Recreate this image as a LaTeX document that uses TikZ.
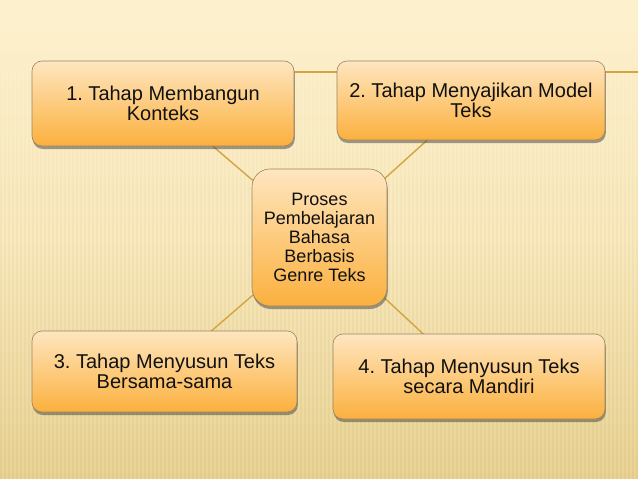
\documentclass[tikz,border=0pt]{standalone}
\usepackage{fontspec}
\setmainfont{Liberation Sans}
\frenchspacing
\usetikzlibrary{shadows}
\definecolor{bgtop}{HTML}{FDF0CC}
\definecolor{bgbot}{HTML}{E9D396}
\definecolor{boxtop}{HTML}{FEE6C0}
\definecolor{boxmid}{HTML}{FDCB7E}
\definecolor{boxbot}{HTML}{FBB03E}
\definecolor{linkcol}{HTML}{D4A443}
\definecolor{edgecol}{HTML}{9A8462}
\definecolor{txtcol}{HTML}{111111}
\definecolor{stripecol}{HTML}{D9BE78}
\pgfdeclarelayer{bglayer}
\pgfdeclarelayer{linklayer}
\pgfsetlayers{bglayer,linklayer,main}
\tikzset{
  stagebox/.style={draw=edgecol, line width=0.6pt, rounded corners=10pt,
    top color=boxtop, bottom color=boxbot, middle color=boxmid,
    align=center, text=txtcol, inner sep=0pt,
    font=\fontsize{20}{20}\selectfont,
    drop shadow={shadow xshift=0.8pt, shadow yshift=-3pt, fill=black!75, opacity=0.5}},
  hubbox/.style={stagebox, rounded corners=18pt, font=\fontsize{18}{19}\selectfont},
  link/.style={draw=linkcol, line width=1.4pt}
}
\begin{document}
\begin{tikzpicture}[x=1pt,y=-1pt]
\useasboundingbox (0,0) rectangle (638,479);
\begin{pgfonlayer}{bglayer}
  \shade[top color=bgtop, bottom color=bgbot, middle color=bgtop!75!bgbot] (0,0) rectangle (638,479);
  \fill[bgtop] (0,0) rectangle (638,30);
  \foreach \i in {0,4,...,636} {
    \shade[top color=bgtop, bottom color=stripecol, opacity=0.35] (\i,30) rectangle (\i+1.5,479);
  }
\end{pgfonlayer}

\node[stagebox, minimum width=262pt, minimum height=85pt] (s1) at (163,103.5) {1. Tahap Membangun\\Konteks};
\node[stagebox, minimum width=268pt, minimum height=79pt] (s2) at (471,100.5) {2. Tahap Menyajikan Model\\Teks};
\node[hubbox, minimum width=135pt, minimum height=137pt] (hub) at (319.5,237.5) {Proses\\Pembelajaran\\Bahasa\\Berbasis\\Genre Teks};
\node[stagebox, minimum width=265pt, minimum height=81pt] (s3) at (164.5,371.5) {3. Tahap Menyusun Teks\\Bersama-sama};
\node[stagebox, minimum width=272pt, minimum height=85pt] (s4) at (469,376.5) {4. Tahap Menyusun Teks\\secara Mandiri};

\coordinate (hl) at (100,72);
\coordinate (hr) at (638,72);

\begin{pgfonlayer}{linklayer}
  \draw[draw=linkcol, line width=1.2pt] (hl) -- (hr);
  \draw[link] (s1.center) -- (hub.center);
  \draw[link] (s2.center) -- (hub.center);
  \draw[link] (s3.center) -- (hub.center);
  \draw[link] (s4.center) -- (hub.center);
\end{pgfonlayer}
\end{tikzpicture}
\end{document}
